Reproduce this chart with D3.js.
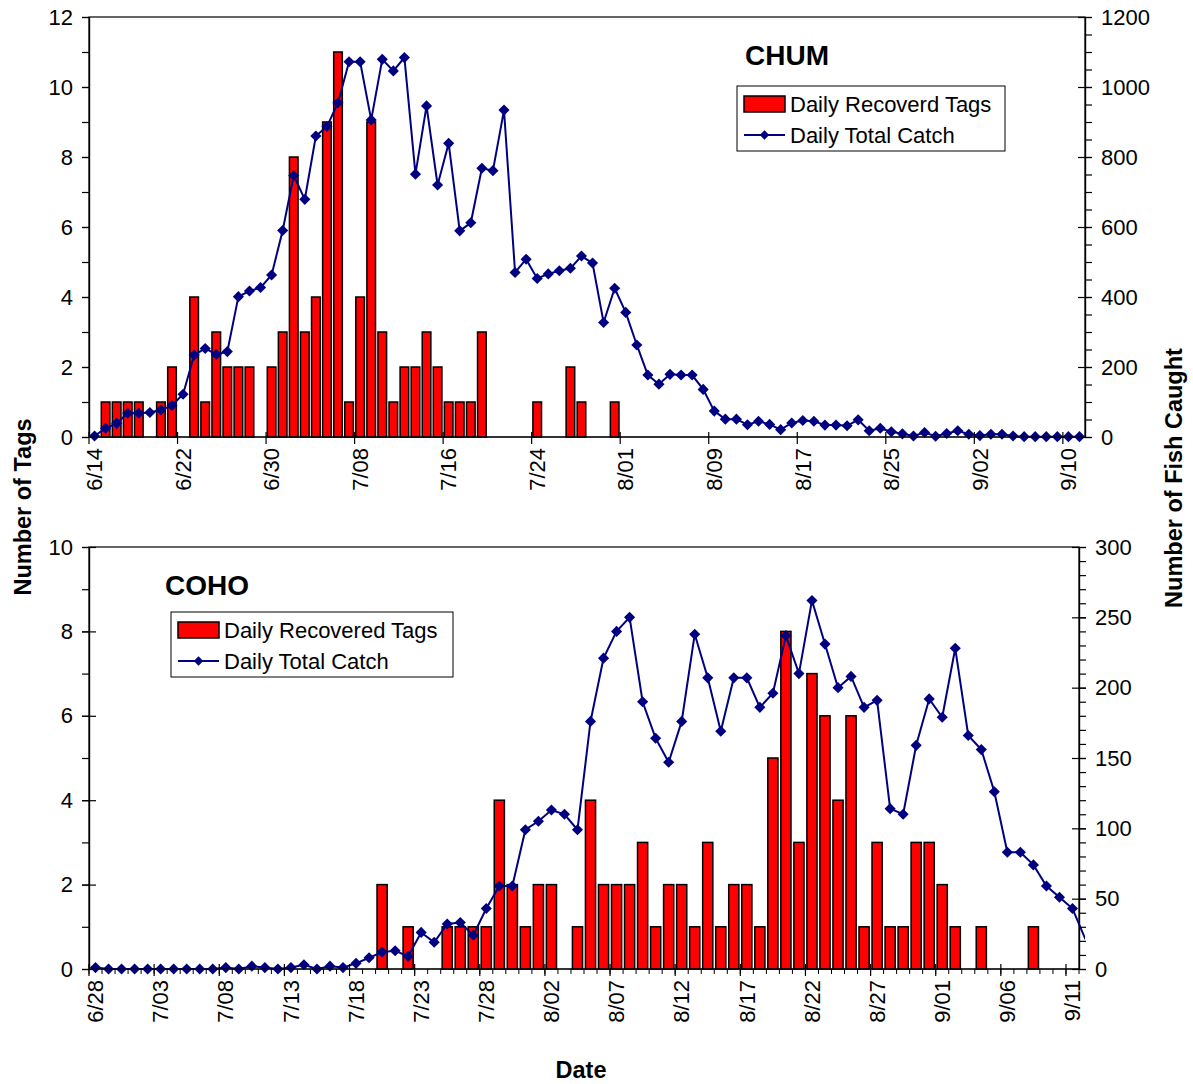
<!DOCTYPE html>
<html>
<head>
<meta charset="utf-8">
<script src="https://cdn.jsdelivr.net/npm/d3@7"></script>
<style>
  body { margin: 0; background: #fff; }
  svg text { font-family: "Liberation Sans", Arial, sans-serif; fill: #000; }
</style>
</head>
<body>
<svg id="chart" width="1193" height="1084"></svg>
<script>
// ---- CHUM data (one value per day, starting 6/14) ----
const chumStart = "6/14";
const chumTags = [
  0, 1, 1, 1, 1, 0, 1, 2, 0, 4, 1, 3, 2, 2, 2, 0, 2,            // 6/14 - 6/30
  3, 8, 3, 4, 9, 11, 1, 4, 9, 3, 1, 2, 2, 3, 2, 1, 1, 1, 3,      // 7/01 - 7/19
  0, 0, 0, 0, 1, 0, 0, 2, 1, 0, 0, 1,                            // 7/20 - 7/31
  0, 0, 0, 0, 0, 0, 0, 0, 0, 0, 0, 0, 0, 0, 0, 0, 0, 0, 0, 0,    // 8/01 - 8/20
  0, 0, 0, 0, 0, 0, 0, 0, 0, 0, 0,                               // 8/21 - 8/31
  0, 0, 0, 0, 0, 0, 0, 0, 0, 0, 0                                // 9/01 - 9/11
];
const chumCatch = [
  3, 25, 39, 68, 68, 70, 77, 90, 122, 234, 253, 236, 244, 401, 417, 427, 463,      // 6/14 - 6/30
  590, 747, 679, 860, 887, 955, 1072, 1072, 906, 1079, 1046, 1084, 751, 946, 720,  // 7/01 - 7/15
  839, 589, 612, 768, 761, 934, 470, 508, 453, 466, 475, 482, 517, 497, 327, 425,  // 7/16 - 7/31
  356, 263, 177, 151, 179, 177, 177, 136, 74, 51, 51, 35, 45, 36, 21, 40,          // 8/01 - 8/16
  47, 45, 34, 34, 32, 49, 18, 25, 15, 9, 3, 13, 2, 10, 18,                         // 8/17 - 8/31
  8, 4, 8, 8, 3, 1, 1, 1, 1, 1, 1                                                  // 9/01 - 9/11
];
const chumTickLabels = ["6/14", "6/22", "6/30", "7/08", "7/16", "7/24", "8/01", "8/09", "8/17", "8/25", "9/02", "9/10"];

// ---- COHO data (one value per day, starting 6/28) ----
const cohoStart = "6/28";
const cohoTags = [
  0, 0, 0,                                                       // 6/28 - 6/30
  0, 0, 0, 0, 0, 0, 0, 0, 0, 0, 0, 0, 0, 0, 0, 0, 0, 0, 0,       // 7/01 - 7/19
  2, 0, 1, 0, 0, 1, 1, 1, 1, 4, 2, 1,                            // 7/20 - 7/31
  2, 2, 0, 1, 4, 2, 2, 2, 3, 1, 2, 2, 1, 3, 1, 2,                // 8/01 - 8/16
  2, 1, 5, 8, 3, 7, 6, 4, 6, 1, 3, 1, 1, 3, 3,                   // 8/17 - 8/31
  2, 1, 0, 1, 0, 0, 0, 1, 0, 0, 0                                // 9/01 - 9/11
];
const cohoCatch = [
  1, 0, 0,                                                       // 6/28 - 6/30
  0, 0, 0, 0, 0, 0, 0, 1, 0, 2, 1, 0, 1, 3, 0, 2, 1, 4, 8,       // 7/01 - 7/19
  12, 13, 9, 26, 19, 32, 33, 24, 43, 59, 59, 99,                 // 7/20 - 7/31
  105, 113, 110, 99, 176, 221, 240, 250, 190, 164, 147, 176, 238, 207, 169, 207,  // 8/01 - 8/16
  207, 186, 196, 237, 210, 262, 231, 200, 208, 186, 191, 114, 110, 159, 192,      // 8/17 - 8/31
  179, 228, 166, 156, 126, 83, 83, 74, 59, 51, 43, 21            // 9/01 - 9/12
];
const cohoTickLabels = ["6/28", "7/03", "7/08", "7/13", "7/18", "7/23", "7/28", "8/02", "8/07",
  "8/12", "8/17", "8/22", "8/27", "9/01", "9/06", "9/11"];

const svg = d3.select("#chart");
const HALF_DAY = 12 * 3600 * 1000;
const parseDay = s => {
  const [m, d] = s.split("/").map(Number);
  return new Date(Date.UTC(2000, m - 1, d));
};
const diamond = d3.symbol().type(d3.symbolSquare);

function drawPanel(p) {
  const start = parseDay(p.start);
  const end = d3.utcDay.offset(start, p.tags.length - 1);
  const dayOf = i => d3.utcDay.offset(start, i);

  const x = d3.scaleUtc()
    .domain([new Date(+start - HALF_DAY), new Date(+end + HALF_DAY)])
    .range([p.left, p.right]);
  const yL = d3.scaleLinear().domain([0, p.tagMax]).range([p.bottom, p.top]);
  const yR = d3.scaleLinear().domain([0, p.catchMax]).range([p.bottom, p.top]);
  const band = x(dayOf(1)) - x(start);

  const g = svg.append("g");

  svg.append("clipPath").attr("id", "clip-" + p.name)
    .append("rect")
    .attr("x", p.left)
    .attr("y", p.top - 10)
    .attr("width", p.right - p.left + p.overflow)
    .attr("height", p.bottom - p.top + 20);

  // Plot frame
  g.append("rect")
    .attr("x", p.left).attr("y", p.top)
    .attr("width", p.right - p.left).attr("height", p.bottom - p.top)
    .attr("fill", "none").attr("stroke", "#000").attr("stroke-width", 1.2);

  // Bars - daily recovered tags
  const bars = p.tags.map((v, i) => ({ v: v, d: dayOf(i) })).filter(d => d.v > 0);
  g.selectAll(".bar")
    .data(bars)
    .enter()
    .append("rect")
    .attr("class", "bar")
    .attr("x", d => x(d.d) - band * 0.39)
    .attr("width", band * 0.78)
    .attr("y", d => yL(d.v))
    .attr("height", d => yL(0) - yL(d.v))
    .attr("fill", "#ff0000")
    .attr("stroke", "#000")
    .attr("stroke-width", 1.5);

  // Line - daily total catch
  const pts = p.catch.map((v, i) => ({ v: v, d: dayOf(i) }));
  g.append("path")
    .datum(pts)
    .attr("clip-path", `url(#clip-${p.name})`)
    .attr("d", d3.line().x(d => x(d.d)).y(d => yR(d.v)))
    .attr("fill", "none")
    .attr("stroke", "#000080")
    .attr("stroke-width", 2);

  g.selectAll(".mk")
    .data(pts.filter(d => x(d.d) <= p.right))
    .enter()
    .append("path")
    .attr("class", "mk")
    .attr("d", diamond.size(62))
    .attr("transform", d => `translate(${x(d.d)},${yR(d.v)}) rotate(45)`)
    .attr("fill", "#000080");

  // Left axis
  const leftMinor = d3.axisLeft(yL).tickValues(d3.range(0, p.tagMax + 1, 1)).tickSize(7).tickFormat("");
  const leftMajor = d3.axisLeft(yL).tickValues(d3.range(0, p.tagMax + 1, 2)).tickSize(7).tickPadding(9);
  const gl = g.append("g").attr("transform", `translate(${p.left},0)`);
  gl.append("g").call(leftMinor);
  const glm = gl.append("g").call(leftMajor);
  if (p.majorCross) glm.selectAll(".tick line").attr("x1", 7);

  // Right axis
  const rightMinor = d3.axisRight(yR).tickValues(d3.range(0, p.catchMax + 1, p.catchMinor)).tickSize(7).tickFormat("");
  const rightMajor = d3.axisRight(yR).tickValues(d3.range(0, p.catchMax + 1, p.catchStep))
    .tickSize(7).tickPadding(9).tickFormat(d3.format("d"));
  const gr = g.append("g").attr("transform", `translate(${p.right},0)`);
  gr.append("g").call(rightMinor);
  gr.append("g").call(rightMajor).selectAll(".tick line").attr("x1", -7);

  [gl, gr].forEach(a => {
    a.selectAll(".domain").attr("stroke", "#000").attr("stroke-width", 1.2);
    a.selectAll(".tick line").attr("stroke", "#000").attr("stroke-width", 1.2);
    a.selectAll("text").style("font-size", "22px").attr("fill", "#000");
  });

  // Bottom axis: ticks on day boundaries, labels on day centres
  const gx = g.append("g");
  gx.append("line")
    .attr("x1", p.left).attr("x2", p.right)
    .attr("y1", p.bottom).attr("y2", p.bottom)
    .attr("stroke", "#000").attr("stroke-width", 1.2);

  const allDays = d3.range(0, p.tags.length + 1).map(dayOf);
  const majorDays = allDays.filter((d, i) => i % p.labelEvery === 0);
  if (p.minorX) {
    gx.selectAll(".xminor")
      .data(allDays)
      .enter().append("line")
      .attr("x1", d => x(new Date(+d - HALF_DAY)))
      .attr("x2", d => x(new Date(+d - HALF_DAY)))
      .attr("y1", p.bottom).attr("y2", p.bottom + 5)
      .attr("stroke", "#000").attr("stroke-width", 1);
  }
  gx.selectAll(".xmajor")
    .data(majorDays)
    .enter().append("line")
    .attr("x1", d => x(new Date(+d - HALF_DAY)))
    .attr("x2", d => x(new Date(+d - HALF_DAY)))
    .attr("y1", p.bottom - 5).attr("y2", p.bottom + 7)
    .attr("stroke", "#000").attr("stroke-width", 1.2);

  gx.selectAll(".xlab")
    .data(p.tickLabels)
    .enter().append("text")
    .attr("transform", d => `translate(${x(parseDay(d))},${p.bottom + 11}) rotate(-90)`)
    .attr("text-anchor", "end")
    .attr("dy", "0.35em")
    .style("font-size", "22px")
    .text(d => d);

  // Title
  g.append("text")
    .attr("x", p.titleX).attr("y", p.titleY)
    .style("font-size", "28px").style("font-weight", "bold")
    .text(p.name);

  // Legend
  const lg = g.append("g").attr("transform", `translate(${p.legX},${p.legY})`);
  lg.append("rect")
    .attr("width", p.legW).attr("height", 65)
    .attr("fill", "#fff").attr("stroke", "#000").attr("stroke-width", 1);
  lg.append("rect")
    .attr("x", 7).attr("y", 10).attr("width", 41).attr("height", 16)
    .attr("fill", "#ff0000").attr("stroke", "#000").attr("stroke-width", 1.5);
  lg.append("text")
    .attr("x", 53).attr("y", 18).attr("dy", "0.35em")
    .style("font-size", "22px")
    .text(p.barLabel);
  lg.append("line")
    .attr("x1", 7).attr("x2", 48).attr("y1", 49).attr("y2", 49)
    .attr("stroke", "#000080").attr("stroke-width", 2);
  lg.append("path")
    .attr("d", diamond.size(44))
    .attr("transform", "translate(27.5,49) rotate(45)")
    .attr("fill", "#000080");
  lg.append("text")
    .attr("x", 53).attr("y", 49).attr("dy", "0.35em")
    .style("font-size", "22px")
    .text("Daily Total Catch");
}

drawPanel({
  name: "CHUM", start: chumStart, tags: chumTags, catch: chumCatch, tickLabels: chumTickLabels,
  left: 89, right: 1085, top: 17, bottom: 437, overflow: 0,
  tagMax: 12, catchMax: 1200, catchStep: 200, catchMinor: 50,
  labelEvery: 8, minorX: false, majorCross: false,
  titleX: 745, titleY: 65, legX: 737, legY: 86, legW: 268,
  barLabel: "Daily Recoverd Tags"
});

drawPanel({
  name: "COHO", start: cohoStart, tags: cohoTags, catch: cohoCatch, tickLabels: cohoTickLabels,
  left: 89, right: 1079, top: 547, bottom: 969, overflow: 6,
  tagMax: 10, catchMax: 300, catchStep: 50, catchMinor: 10,
  labelEvery: 5, minorX: true, majorCross: true,
  titleX: 165, titleY: 595, legX: 171, legY: 612, legW: 282,
  barLabel: "Daily Recovered Tags"
});

// Shared axis titles
svg.append("text")
  .attr("transform", "translate(31,507) rotate(-90)")
  .attr("text-anchor", "middle")
  .style("font-size", "23.5px").style("font-weight", "bold")
  .text("Number of Tags");
svg.append("text")
  .attr("transform", "translate(1182,478) rotate(-90)")
  .attr("text-anchor", "middle")
  .style("font-size", "23.5px").style("font-weight", "bold")
  .text("Number of Fish Caught");
svg.append("text")
  .attr("x", 581).attr("y", 1078)
  .attr("text-anchor", "middle")
  .style("font-size", "23.5px").style("font-weight", "bold")
  .text("Date");
</script>
</body>
</html>
